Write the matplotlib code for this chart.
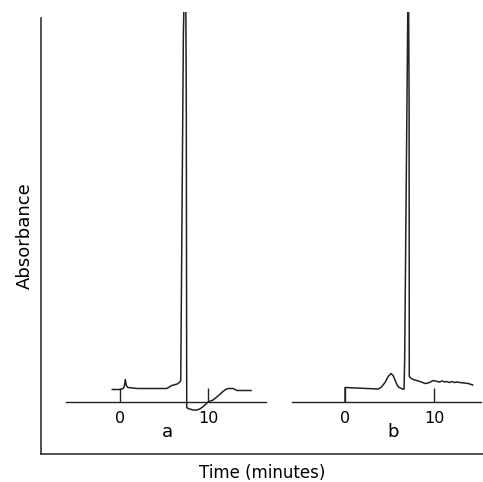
import matplotlib
matplotlib.use("Agg")
import matplotlib.pyplot as plt
import numpy as np

# chromatogram a (time in minutes, absorbance in arbitrary units; peak is clipped)
time_a = [-0.88, 0.0, 0.38, 0.5, 0.6, 0.72, 0.88, 2.0, 5.3, 5.88, 6.5, 6.74, 6.9, 7.2, 7.44,
          7.53, 7.58, 7.73, 8.3, 8.75, 9.05, 9.32, 9.65, 10.0, 10.57, 11.2, 11.7, 12.0,
          12.27, 12.84, 13.3, 14.89]
abs_a = [12, 12, 13, 16, 22, 16, 14, 13, 13, 16, 17.5, 19, 21, 368, 470,
         300, -6, -7, -8.5, -8.5, -7.5, -6, -3.5, -0.5, 1.5, 6, 10, 12,
         13, 13, 11, 11]

# chromatogram b
time_b = [0.0, 0.0, 3.74, 4.1, 4.49, 4.85, 5.17, 5.4, 5.62, 5.85, 6.07, 6.48, 6.63,
          6.7, 7.05, 7.11, 7.2, 7.22, 7.45, 7.67, 8.43, 8.99, 9.36, 9.92, 10.6, 10.9,
          11.2, 11.43, 11.7, 12.0, 12.3, 12.6, 12.92, 13.4, 13.85, 14.35]
abs_b = [0, 14, 12.5, 14.5, 19, 25, 28, 26, 21.5, 16.5, 14, 12.5, 12.5,
         40, 389, 460, 300, 25, 23, 22, 20, 18, 18.5, 21, 19.5, 20.5,
         19.5, 20, 19, 20, 19, 19.5, 19, 18.5, 18, 16.5]

xticks = [0, 10]
panel_names = ["a", "b"]
xlim_a = (-6.14, 16.59)
xlim_b = (-5.96, 15.28)
ylim = (-18.5, 389.5)

W, H = 483, 482
fig = plt.figure(figsize=(W / 100, H / 100), dpi=100)
plt.rcParams["font.family"] = "DejaVu Sans"
ink = "#222222"


def px_box(x0, y0, x1, y1):
    return [x0 / W, 1 - y1 / H, (x1 - x0) / W, (y1 - y0) / H]


# outer frame with axis titles
frame = fig.add_axes(px_box(41, 18, 483, 454))
frame.set_xticks([]); frame.set_yticks([])
for s in ("top", "right"):
    frame.spines[s].set_visible(False)
for s in ("left", "bottom"):
    frame.spines[s].set_color(ink); frame.spines[s].set_linewidth(1.1)
frame.set_ylabel("Absorbance", fontsize=13, labelpad=5)
frame.set_xlabel("Time (minutes)", fontsize=12, labelpad=7)
frame.patch.set_alpha(0)

boxes = [px_box(66, 12, 266, 420), px_box(292, 12, 481, 420)]
label_x = [0.505, 0.534]
series = [(time_a, abs_a, xlim_a), (time_b, abs_b, xlim_b)]
for box, (t, a, xl), name, lx in zip(boxes, series, panel_names, label_x):
    ax = fig.add_axes(box)
    ax.patch.set_alpha(0)
    ax.plot(t, a, color=ink, lw=1.1, solid_joinstyle="round")
    ax.set_xlim(*xl); ax.set_ylim(*ylim)
    for s in ("top", "right", "left"):
        ax.spines[s].set_visible(False)
    ax.spines["bottom"].set_position(("data", 0))
    ax.spines["bottom"].set_color(ink); ax.spines["bottom"].set_linewidth(1.0)
    ax.set_yticks([])
    ax.set_xticks(xticks)
    ax.tick_params(axis="x", direction="in", length=10, width=1.0, color=ink,
                   pad=7, labelsize=11.5)
    ax.text(lx, -0.03, name, transform=ax.transAxes, ha="center", va="center",
            fontsize=13, clip_on=False)

fig.savefig("out.png", dpi=100)
